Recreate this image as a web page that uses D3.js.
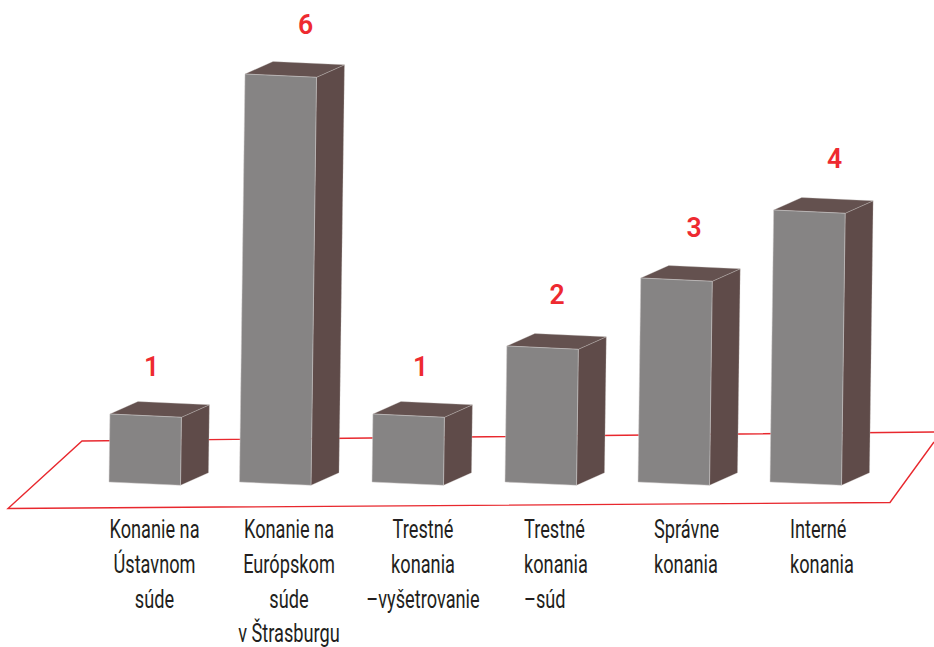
<!DOCTYPE html>
<html><head><meta charset="utf-8">
<script src="https://cdn.jsdelivr.net/npm/d3@7"></script>
<style>html,body{margin:0;padding:0;background:#fff}svg{display:block}</style>
</head><body><svg id="c" width="934" height="647"></svg>
<script>
const categories = [
  ["Konanie na","Ústavnom","súde"],
  ["Konanie na","Európskom","súde","v Štrasburgu"],
  ["Trestné","konania","–vyšetrovanie"],
  ["Trestné","konania","–súd"],
  ["Správne","konania"],
  ["Interné","konania"]
];
const values = [1,6,1,2,3,4];
const keys = categories.map((_,i)=>i);

const W = 934, H = 647;
const svg = d3.select("#c").attr("viewBox",`0 0 ${W} ${H}`);

const x = d3.scaleOrdinal().domain(keys).range([109,239.5,372,505,638,770]);
const labelX = d3.scaleOrdinal().domain(keys).range([151.5,305.5,420.5,557,694,834.5]);
const labelY = d3.scaleOrdinal().domain(keys).range([376,34,376,304,237,168]);
const catX = d3.scaleOrdinal().domain(keys).range([154.5,289,423,524,654,790]);
const catAnchor = d3.scaleOrdinal().domain(keys).range(["middle","middle","middle","start","start","start"]);
const y = d3.scaleLinear().domain([0,6]).range([482,74]);
const lean = d3.scaleLinear().domain([0,6]).range([0,5.5]);
const barW = 71.5, depthX = 28, depthY = -12.5, skewY = 3.3;

const red = "#e8282e";
const line = d3.line();

// floor
svg.append("path")
  .attr("d", line([[934,432],[82,441],[8,508.5],[890,502.5],[934,442]]))
  .attr("fill","none").attr("stroke",red).attr("stroke-width",1.4);

const g = svg.selectAll("g.bar").data(values).join("g").attr("class","bar");
const edge = "#cfcbca";
g.each(function(v,i){
  const s = d3.select(this);
  const bl=[x(i),y(0)], br=[x(i)+barW,y(0)+skewY];
  const tl=[x(i)+lean(v),y(v)], tr=[x(i)+lean(v)+barW,y(v)+skewY];
  const off=p=>[p[0]+depthX,p[1]+depthY];
  s.append("path").attr("d",line([tr,br,off(br),off(tr)])+"Z").attr("fill","#5f4b49").attr("stroke",edge).attr("stroke-width",0.3);
  s.append("path").attr("d",line([tl,tr,off(tr),off(tl)])+"Z").attr("fill","#64514f").attr("stroke",edge).attr("stroke-width",0.3);
  s.append("path").attr("d",line([tl,tr,br,bl])+"Z").attr("fill","#868484").attr("stroke",edge).attr("stroke-width",0.5);
});

// value labels
svg.selectAll("text.val").data(values).join("text").attr("class","val")
  .attr("text-anchor","middle")
  .attr("transform",(v,i)=>`translate(${labelX(i)},${labelY(i)}) scale(0.95,1)`)
  .attr("font-family","Roboto").attr("font-weight",600).attr("font-size",28)
  .attr("fill","#ee2a30").text(v=>v);

// category labels
const lineH = 34.6;
svg.selectAll("text.cat").data(categories).join("text").attr("class","cat")
  .attr("text-anchor",(d,i)=>catAnchor(i))
  .attr("transform",(d,i)=>`translate(${catX(i)},0) scale(0.7,1)`)
  .attr("font-family","Roboto").attr("font-weight",400).attr("font-size",26).attr("fill","#231f20")
  .each(function(d){
    d3.select(this).selectAll("tspan").data(d).join("tspan")
      .attr("x",0).attr("y",(_,k)=>538.5+k*lineH).text(t=>t);
  });
</script></body></html>
